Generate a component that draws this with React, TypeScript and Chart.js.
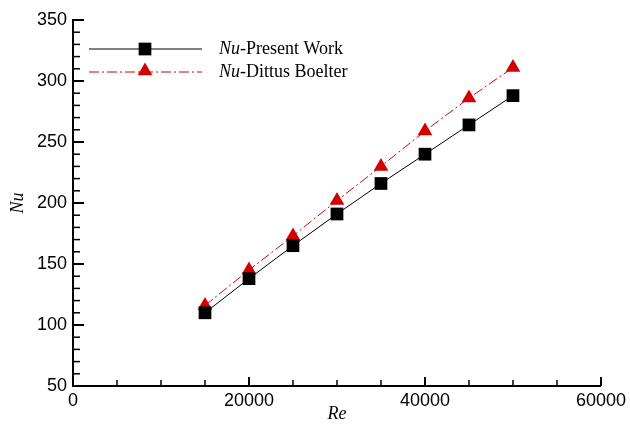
import React, { useEffect, useRef } from "react";
import { Chart, registerables } from "chart.js";

Chart.register(...registerables);

const reValues = [15000, 20000, 25000, 30000, 35000, 40000, 45000, 50000];
const nuPresent = [110, 138, 165, 191, 216, 240, 264, 288];
const nuDittus = [116, 145, 173, 202, 230, 259, 286, 311];
const xTicks = [0, 20000, 40000, 60000];
const yTicks = [50, 100, 150, 200, 250, 300, 350];
const legendLabels = ["-Present Work", "-Dittus Boelter"];

const RED = "rgb(210,0,0)";

function drawMarker(ctx: CanvasRenderingContext2D, style: string, x: number, y: number, radius: number, color: string) {
  ctx.save();
  ctx.fillStyle = color;
  ctx.beginPath();
  if (style === "rect") {
    const s = radius * Math.SQRT1_2;
    ctx.rect(x - s, y - s, 2 * s, 2 * s);
  } else {
    let rad = 0;
    ctx.moveTo(x + Math.sin(rad) * radius, y - Math.cos(rad) * radius);
    rad += (2 * Math.PI) / 3;
    ctx.lineTo(x + Math.sin(rad) * radius, y - Math.cos(rad) * radius);
    rad += (2 * Math.PI) / 3;
    ctx.lineTo(x + Math.sin(rad) * radius, y - Math.cos(rad) * radius);
    ctx.closePath();
  }
  ctx.fill();
  ctx.restore();
}

const decorPlugin = {
  id: "decor",
  afterDraw(chart: any) {
    const ctx = chart.ctx;
    const xs = chart.scales.x;
    const ys = chart.scales.y;
    const { left, bottom } = chart.chartArea;
    ctx.save();
    ctx.strokeStyle = "#000";
    for (let v = 50; v <= 350; v += 10) {
      const y = ys.getPixelForValue(v);
      const major = v % 50 === 0;
      ctx.lineWidth = major ? 2 : 1.5;
      ctx.beginPath();
      ctx.moveTo(left, y);
      ctx.lineTo(left + (major ? 11 : 7), y);
      ctx.stroke();
    }
    for (let v = 0; v <= 60000; v += 5000) {
      const x = xs.getPixelForValue(v);
      const major = v % 20000 === 0;
      ctx.lineWidth = major ? 2 : 1.5;
      ctx.beginPath();
      ctx.moveTo(x, bottom);
      ctx.lineTo(x, bottom - (major ? 9 : 6));
      ctx.stroke();
    }
    ctx.fillStyle = "#000";
    ctx.font = "italic 18px 'Liberation Serif', 'Times New Roman', serif";
    ctx.textAlign = "center";
    ctx.textBaseline = "middle";
    ctx.fillText("Re", (xs.left + xs.right) / 2, 414);
    ctx.save();
    ctx.translate(18, (ys.top + ys.bottom) / 2);
    ctx.rotate(-Math.PI / 2);
    ctx.fillText("Nu", 0, 0);
    ctx.restore();

    const rows = [
      { y: 49, color: "#000", dash: [] as number[], style: "rect", radius: 9, label: legendLabels[0] },
      { y: 72, color: RED, dash: [10, 3, 2, 3], style: "triangle", radius: 8.5, label: legendLabels[1] },
    ];
    rows.forEach((r) => {
      ctx.save();
      ctx.strokeStyle = r.color;
      ctx.lineWidth = 1;
      ctx.setLineDash(r.dash);
      ctx.beginPath();
      ctx.moveTo(89, r.y);
      ctx.lineTo(202, r.y);
      ctx.stroke();
      ctx.restore();
      drawMarker(ctx, r.style, 145, r.style === "triangle" ? r.y - 1 : r.y, r.radius, r.color);
      ctx.fillStyle = "#000";
      ctx.textAlign = "left";
      ctx.textBaseline = "middle";
      ctx.font = "italic 18px 'Liberation Serif', 'Times New Roman', serif";
      ctx.fillText("Nu", 219, r.y);
      const w = ctx.measureText("Nu").width;
      ctx.font = "18px 'Liberation Serif', 'Times New Roman', serif";
      ctx.fillText(r.label, 219 + w, r.y);
    });
    ctx.restore();
  },
};

export default function App() {
  const ref = useRef<HTMLCanvasElement>(null);
  useEffect(() => {
    document.body.style.margin = "0";
    const chart = new Chart(ref.current!, {
      type: "scatter",
      data: {
        datasets: [
          {
            label: "Nu-Present Work",
            data: reValues.map((x, i) => ({ x, y: nuPresent[i] })),
            showLine: true,
            borderColor: "#000",
            backgroundColor: "#000",
            borderWidth: 1,
            pointStyle: "rect",
            pointRadius: 9,
            pointBorderWidth: 0,
          },
          {
            label: "Nu-Dittus Boelter",
            data: reValues.map((x, i) => ({ x, y: nuDittus[i] })),
            showLine: true,
            borderColor: RED,
            backgroundColor: RED,
            borderWidth: 1,
            borderDash: [10, 3, 2, 3],
            pointStyle: "triangle",
            pointRadius: 8.5,
            pointBorderWidth: 0,
          },
        ],
      },
      options: {
        animation: false,
        responsive: false,
        devicePixelRatio: 1,
        layout: { padding: { top: 20, right: 28, left: 0, bottom: 0 } },
        plugins: { legend: { display: false }, tooltip: { enabled: false } },
        scales: {
          x: {
            type: "linear",
            min: 0,
            max: 60000,
            afterFit: (s: any) => { s.height = 39; },
            afterBuildTicks: (s: any) => { s.ticks = xTicks.map((v) => ({ value: v })); },
            grid: { display: false, drawTicks: false },
            border: { display: true, color: "#000", width: 2 },
            ticks: {
              color: "#000",
              padding: 4,
              maxRotation: 0,
              callback: (v: any) => String(v),
              font: { family: "'Liberation Sans', Arial, sans-serif", size: 18 },
            },
          },
          y: {
            type: "linear",
            min: 50,
            max: 350,
            afterFit: (s: any) => { s.width = 73; },
            afterBuildTicks: (s: any) => { s.ticks = yTicks.map((v) => ({ value: v })); },
            grid: { display: false, drawTicks: false },
            border: { display: true, color: "#000", width: 2 },
            ticks: {
              color: "#000",
              padding: 6,
              callback: (v: any) => String(v),
              font: { family: "'Liberation Sans', Arial, sans-serif", size: 18 },
            },
          },
        },
      },
      plugins: [decorPlugin],
    } as any);
    return () => chart.destroy();
  }, []);
  return (
    <div style={{ position: "fixed", left: 0, top: 0, width: 630, height: 425, background: "#fff" }}>
      <canvas ref={ref} width={630} height={425} />
    </div>
  );
}
